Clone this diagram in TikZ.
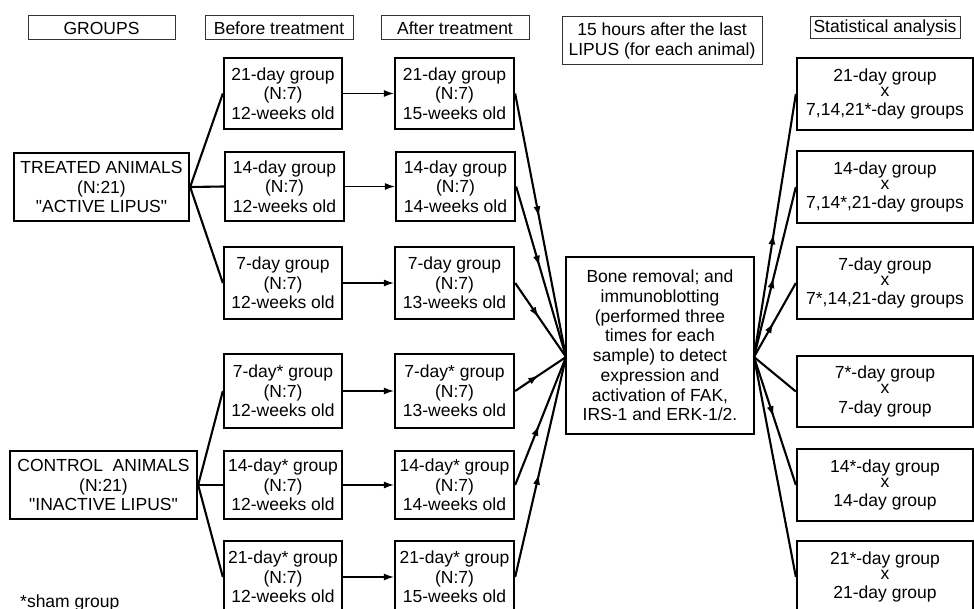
\documentclass[tikz,border=0pt]{standalone}
\usepackage{fontspec}
\setmainfont{Liberation Sans}[Ligatures=TeXOff]
\usetikzlibrary{arrows.meta,decorations.markings}
\begin{document}
\begin{tikzpicture}[x=1pt,y=-1pt,
  txt/.style={font=\fontsize{17.5}{19.5}\selectfont, align=center},
  hdr/.style={txt, draw=black!80, line width=1pt, inner sep=0pt},
  gbox/.style={txt, draw, line width=2.3pt, inner sep=0pt},
  fan/.style={line width=2.1pt},
  tarrow/.style={line width=1.1pt, -{Latex[length=10pt,width=7pt]}},
  midarr/.style={fan, postaction={decorate}, decoration={markings, mark=at position 0.47 with {\arrow{Latex[length=11pt,width=7pt]}}}},
]
\useasboundingbox (0,0) rectangle (974,609);

% headers
\node[hdr, minimum width=147, minimum height=24] (hg) at (101.5,28) {GROUPS};
\node[hdr, minimum width=148, minimum height=24] (hb) at (279,28) {Before treatment};
\node[hdr, minimum width=148, minimum height=24] (ha) at (455,28) {After treatment};
\node[hdr, minimum width=200, minimum height=48, font=\fontsize{17.5}{20}\selectfont] (h15) at (662,41) {15 hours after the last\\LIPUS (for each animal)};
\node[hdr, minimum width=150, minimum height=22] (hs) at (885,28) {Statistical analysis};

% animal groups
\node[gbox, minimum width=175, minimum height=68] (treated) at (101.5,187) {TREATED ANIMALS\\(N:21)\\"ACTIVE LIPUS"};
\node[gbox, minimum width=187, minimum height=68] (control) at (103.5,485) {CONTROL\ \ ANIMALS\\(N:21)\\"INACTIVE LIPUS"};

% before
\node[gbox, minimum width=118, minimum height=71] (b1) at (283,93.5) {21-day group\\(N:7)\\12-weeks old};
\node[gbox, minimum width=119, minimum height=69] (b2) at (284.5,186.5) {14-day group\\(N:7)\\12-weeks old};
\node[gbox, minimum width=118, minimum height=72] (b3) at (283,283) {7-day group\\(N:7)\\12-weeks old};
\node[gbox, minimum width=118, minimum height=74] (b4) at (283,391) {7-day* group\\(N:7)\\12-weeks old};
\node[gbox, minimum width=118, minimum height=68] (b5) at (283,485) {14-day* group\\(N:7)\\12-weeks old};
\node[gbox, minimum width=118, minimum height=72] (b6) at (283,577) {21-day* group\\(N:7)\\12-weeks old};

% after
\node[gbox, minimum width=119, minimum height=71] (a1) at (454.5,93.5) {21-day group\\(N:7)\\15-weeks old};
\node[gbox, minimum width=119, minimum height=69] (a2) at (455.5,186.5) {14-day group\\(N:7)\\14-weeks old};
\node[gbox, minimum width=119, minimum height=72] (a3) at (454.5,283) {7-day group\\(N:7)\\13-weeks old};
\node[gbox, minimum width=119, minimum height=74] (a4) at (454.5,391) {7-day* group\\(N:7)\\13-weeks old};
\node[gbox, minimum width=119, minimum height=68] (a5) at (454.5,485) {14-day* group\\(N:7)\\14-weeks old};
\node[gbox, minimum width=119, minimum height=72] (a6) at (454.5,577) {21-day* group\\(N:7)\\15-weeks old};

% centre
\node[gbox, minimum width=188, minimum height=177, font=\fontsize{17.5}{19.7}\selectfont] (proc) at (660,345.5)
  {Bone removal; and\\immunoblotting\\(performed three\\times for each\\sample) to detect\\expression and\\activation of FAK,\\IRS-1 and ERK-1/2.};
\coordinate (cL) at (566,357);
\coordinate (cR) at (754,357);

% statistics
\node[gbox, minimum width=176, minimum height=72] (r1) at (885,94) {21-day group\\[-4.5pt]x\\7,14,21*-day groups};
\node[gbox, minimum width=176, minimum height=72] (r2) at (885,187) {14-day group\\[-4.5pt]x\\7,14*,21-day groups};
\node[gbox, minimum width=176, minimum height=72] (r3) at (885,283) {7-day group\\[-4.5pt]x\\7*,14,21-day groups};
\node[gbox, minimum width=176, minimum height=71] (r4) at (885,391.5) {7*-day group\\[-4.5pt]x\\7-day group};
\node[gbox, minimum width=176, minimum height=72] (r5) at (885,485) {14*-day group\\[-4.5pt]x\\14-day group};
\node[gbox, minimum width=176, minimum height=72] (r6) at (885,577) {21*-day group\\[-4.5pt]x\\21-day group};

\node[txt, anchor=base west, inner sep=0pt] (note) at (20,607) {*sham group};

% fans
\draw[fan] (treated.east) -- (b1.west);
\draw[fan] (treated.east) -- (b2.west);
\draw[fan] (treated.east) -- (b3.west);
\draw[fan] (control.east) -- (b4.west);
\draw[fan] (control.east) -- (b5.west);
\draw[fan] (control.east) -- (b6.west);

% before -> after
\draw[tarrow] (b1.east) -- (a1.west);
\draw[tarrow] (b2.east) -- (a2.west);
\draw[tarrow] (b3.east) -- (a3.west);
\draw[tarrow] (b4.east) -- (a4.west);
\draw[tarrow] (b5.east) -- (a5.west);
\draw[tarrow] (b6.east) -- (a6.west);

% after -> centre
\draw[midarr] (a1.east) -- (cL);
\draw[midarr] (a2.east) -- (cL);
\draw[midarr] (a3.east) -- (cL);
\draw[midarr] (a4.east) -- (cL);
\draw[midarr] (a5.east) -- (cL);
\draw[midarr] (a6.east) -- (cL);

% centre -> statistics
\draw[midarr] (cR) -- (r1.west);
\draw[midarr] (cR) -- (r2.west);
\draw[midarr] (cR) -- (r3.west);
\draw[fan] (cR) -- (r4.west);
\draw[midarr] (cR) -- (r5.west);
\draw[fan] (cR) -- (r6.west);
\end{tikzpicture}
\end{document}
